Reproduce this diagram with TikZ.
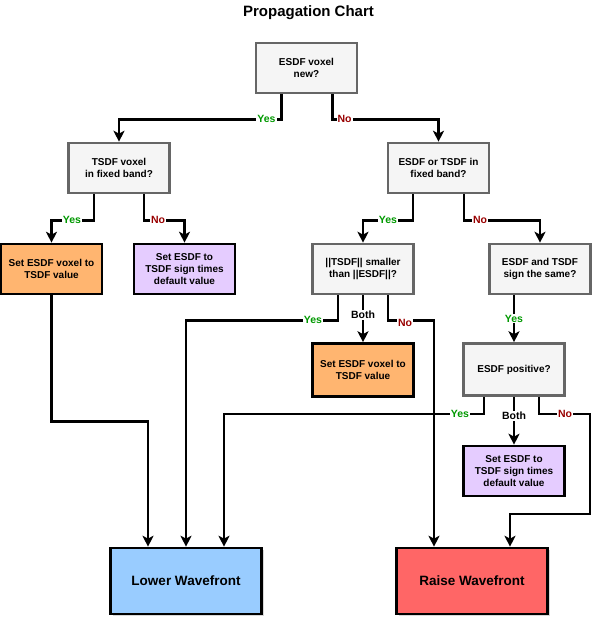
\documentclass[tikz,border=0pt]{standalone}
\usepackage{fontspec}
\setmainfont{Liberation Sans}
\usetikzlibrary{arrows.meta,shadows}
\definecolor{askfill}{HTML}{F5F5F5}
\definecolor{askline}{HTML}{666666}
\definecolor{setorange}{HTML}{FFB570}
\definecolor{setpurple}{HTML}{E5CCFF}
\definecolor{lowblue}{HTML}{99CCFF}
\definecolor{raisered}{HTML}{FF6666}
\definecolor{yesgreen}{HTML}{009900}
\definecolor{nored}{HTML}{990000}
\begin{document}
\begin{tikzpicture} [x=1pt, y=-1pt]
\tikzstyle{every node}=[font=\bfseries\fontsize{10}{12}\selectfont];
\tikzstyle{ask}=[draw=askline, fill=askfill, line width=2.6pt, minimum width=101pt, minimum height=50pt, align=center];
\tikzstyle{act}=[ask, draw=black];
\tikzstyle{wave}=[draw=black, line width=2.6pt, minimum width=151pt, minimum height=66pt, font=\bfseries\fontsize{13.5}{16}\selectfont, drop shadow={shadow xshift=2pt, shadow yshift=-2pt, fill=black!30}];
\tikzstyle{link}=[line width=2.4pt, -{Stealth[length=11pt, width=11pt, inset=3pt]}];
\tikzstyle{lbl}=[fill=white, inner sep=1pt, font=\bfseries\fontsize{10.5}{12}\selectfont];
\tikzstyle{yes}=[lbl, text=yesgreen];
\tikzstyle{no}=[lbl, text=nored];
\tikzstyle{both}=[lbl];
\useasboundingbox (0,0) rectangle (598,619);
\node (title) at (308.5,13) {\fontsize{15}{18}\selectfont Propagation Chart};
\node [ask] (new) at (306.5,68) {ESDF voxel\\new?};
\node [ask] (tband) at (119,168) {TSDF voxel\\in fixed band?};
\node [ask] (etband) at (438.5,168) {ESDF or TSDF in\\fixed band?};
\node [act, fill=setorange] (setl) at (51.5,269) {Set ESDF voxel to\\TSDF value};
\node [act, fill=setpurple] (signl) at (184.5,269) {Set ESDF to\\TSDF sign times\\default value};
\node [ask] (smaller) at (363,269) {||TSDF|| smaller\\than ||ESDF||?};
\node [ask] (same) at (540,269) {ESDF and TSDF\\sign the same?};
\node [act, fill=setorange, minimum height=53pt] (setr) at (363,370) {Set ESDF voxel to\\TSDF value};
\node [ask, minimum height=52pt] (pos) at (514,369.5) {ESDF positive?};
\node [act, fill=setpurple] (signr) at (514,471) {Set ESDF to\\TSDF sign times\\default value};
\node [wave, fill=lowblue] (lower) at (186,581) {Lower Wavefront};
\node [wave, fill=raisered] (raise) at (472,581) {Raise Wavefront};
% top levels
\draw [link] ([xshift=-25pt]new.south) -- ++(0,25) -- ++(-15,0) node [yes] (y1) {Yes} -| (tband.north);
\draw [link] ([xshift=26pt]new.south) -- ++(0,25) -- ++(12,0) node [no] (n1) {No} -| (etband.north);
\draw [link] ([xshift=-25pt]tband.south) -- ++(0,26) -- ++(-22,0) node [yes] (y2) {Yes} -| (setl.north);
\draw [link] ([xshift=25pt]tband.south) -- ++(0,26) -- ++(14,0) node [no] (n2) {No} -| (signl.north);
\draw [link] ([xshift=-25.5pt]etband.south) -- ++(0,26) -- ++(-25,0) node [yes] (y3) {Yes} -| (smaller.north);
\draw [link] ([xshift=25.5pt]etband.south) -- ++(0,26) -- ++(16,0) node [no] (n3) {No} -| (same.north);
% to the wavefronts
\draw [link] (setl.south) -- ++(0,126) -| ([xshift=-38pt]lower.north);
\draw [link] ([xshift=-25pt]smaller.south) -- ++(0,25) -- ++(-25,0) node [yes] (y4) {Yes} -| (lower.north);
\draw [link] (smaller.south) -- node [both, pos=0.42] (b1) {Both} (setr.north);
\draw [link] ([xshift=25pt]smaller.south) -- ++(0,25) -- ++(17,0) node [no, yshift=-3pt] (n4) {No} -| ([xshift=-38pt]raise.north);
\draw [link] (same.south -| pos.north) -- node [yes] (y5) {Yes} (pos.north);
\draw [link] ([xshift=-30pt]pos.south) -- ++(0,17) -- ++(-24,0) node [yes] (y6) {Yes} -| ([xshift=38pt]lower.north);
\draw [link] (pos.south) -- node [both, pos=0.4] (b2) {Both} (signr.north);
\draw [link] ([xshift=25pt]pos.south) -- ++(0,17) -- ++(26,0) node [no] (n5) {No} -- ++(25,0) -- ++(0,100) -| ([xshift=38pt]raise.north);
\end{tikzpicture}
\end{document}
